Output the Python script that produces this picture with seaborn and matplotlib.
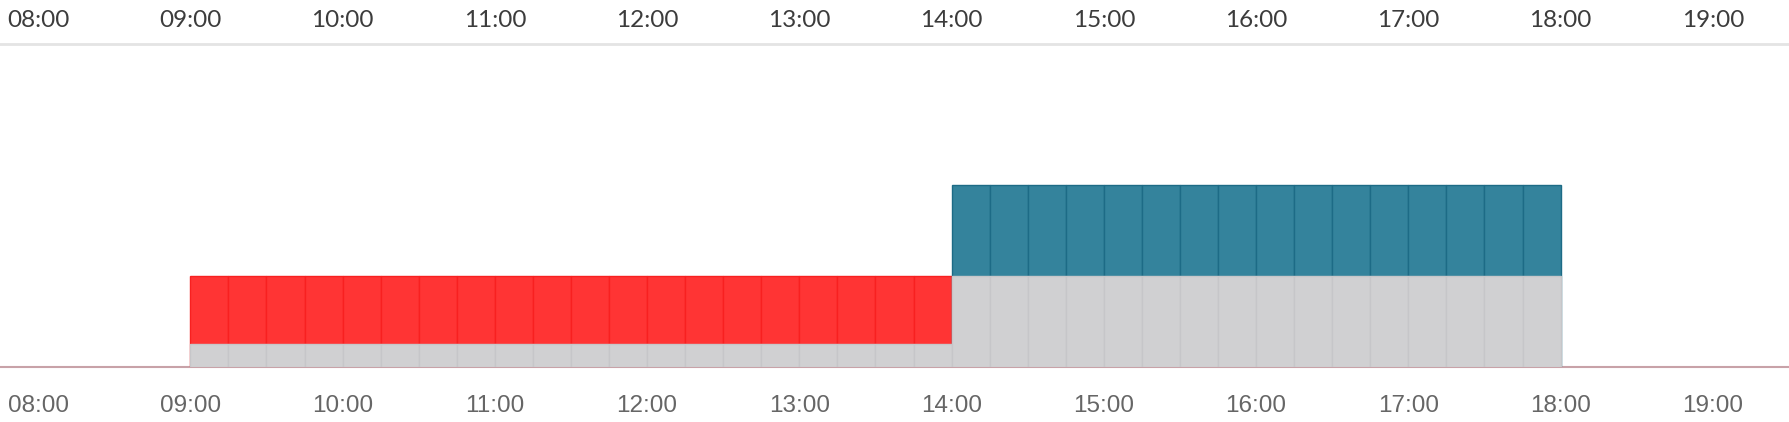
import pandas as pd
import seaborn as sns
import matplotlib.pyplot as plt

# 15 minute slots of the day
slots = [
    "09:00", "09:15", "09:30", "09:45", "10:00", "10:15", "10:30", "10:45",
    "11:00", "11:15", "11:30", "11:45", "12:00", "12:15", "12:30", "12:45",
    "13:00", "13:15", "13:30", "13:45",
    "14:00", "14:15", "14:30", "14:45", "15:00", "15:15", "15:30", "15:45",
    "16:00", "16:15", "16:30", "16:45", "17:00", "17:15", "17:30", "17:45",
]
# grey base part of each slot
base = [1, 1, 1, 1, 1, 1, 1, 1, 1, 1, 1, 1, 1, 1, 1, 1, 1, 1, 1, 1,
        4, 4, 4, 4, 4, 4, 4, 4, 4, 4, 4, 4, 4, 4, 4, 4]
# coloured part stacked on the base
upper = [3, 3, 3, 3, 3, 3, 3, 3, 3, 3, 3, 3, 3, 3, 3, 3, 3, 3, 3, 3,
         4, 4, 4, 4, 4, 4, 4, 4, 4, 4, 4, 4, 4, 4, 4, 4]
shift = ["am"] * 20 + ["pm"] * 16
hour_labels = ["08:00", "09:00", "10:00", "11:00", "12:00", "13:00",
               "14:00", "15:00", "16:00", "17:00", "18:00", "19:00"]

df = pd.DataFrame({"slot": slots, "base": base, "upper": upper, "shift": shift})
t = pd.to_datetime(df["slot"], format="%H:%M")
df["start"] = t.dt.hour + t.dt.minute / 60
df["center"] = df["start"] + 0.125
df["total"] = df["base"] + df["upper"]

tick_pos = [int(s[:2]) for s in hour_labels]

sns.set_style("white")
fig = plt.figure(figsize=(17.89, 4.22), dpi=100)
ax = fig.add_axes([0, 55 / 422, 1, (367 - 44) / 422])

styles = {"am": ("#ff3434", "#f82020"), "pm": ("#34839c", "#1d6b86")}
for key, (fill, edge) in styles.items():
    part = df[df["shift"] == key]
    sns.barplot(data=part, x="center", y="total", native_scale=True, width=1,
                color=fill, saturation=1, errorbar=None, edgecolor=edge,
                linewidth=1, ax=ax)
sns.barplot(data=df, x="center", y="base", native_scale=True, width=1,
            color="#d0d0d2", saturation=1, errorbar=None, edgecolor="#c6c6c9",
            linewidth=1, ax=ax)

ax.set_xlim(7.75, 19.5)
ax.set_ylim(0, 14.2)
ax.set_xlabel("")
ax.set_ylabel("")
ax.set_yticks([])
ax.set_xticks(tick_pos, hour_labels, fontfamily="Liberation Sans",
              fontsize=17.5, color="#666666")
ax.tick_params(axis="x", length=0, pad=20)

for side in ["left", "right", "top"]:
    ax.spines[side].set_visible(False)
ax.spines["bottom"].set_color("#c8a2a8")
ax.spines["bottom"].set_linewidth(1.5)
ax.spines["bottom"].set_zorder(0)

top = ax.secondary_xaxis("top")
top.set_xticks(tick_pos, hour_labels, fontfamily="Lato", fontsize=17.5,
               color="#3c3c3c")
top.tick_params(axis="x", length=0, pad=9)
top.spines["top"].set_color("#e4e4e4")
top.spines["top"].set_linewidth(2)

fig.savefig("out.png", dpi=100)
